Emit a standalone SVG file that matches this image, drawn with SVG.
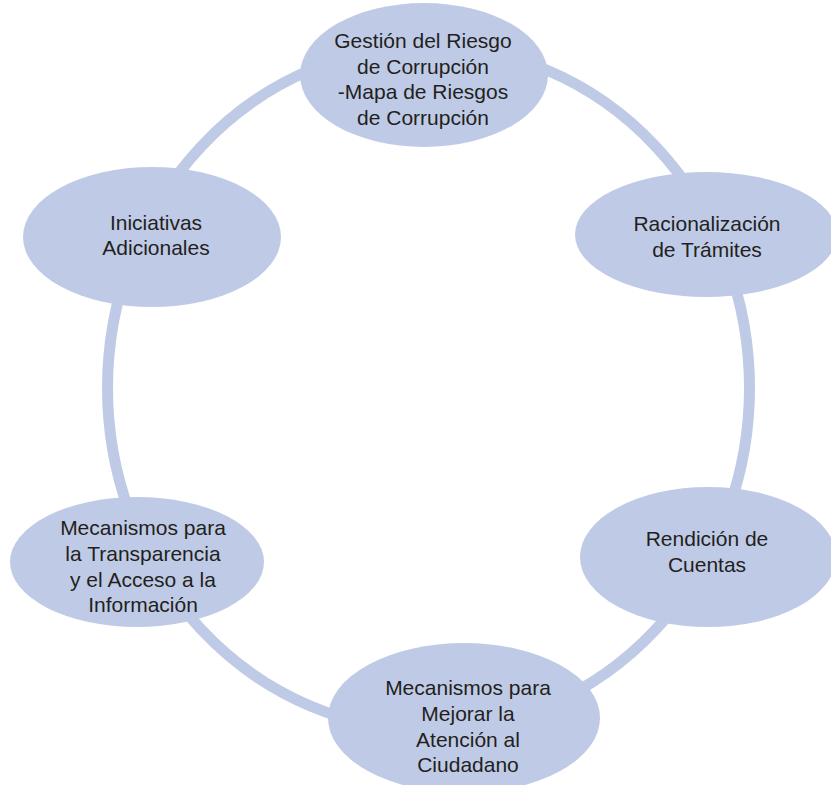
<svg xmlns="http://www.w3.org/2000/svg" width="831" height="785" viewBox="0 0 831 785">
  <style>
    .node { fill: #bfcbe6; }
    .ring { fill: none; stroke: #bfcbe6; stroke-width: 11; }
    .label { font-family: "Liberation Sans", Arial, sans-serif; font-size: 21px; fill: #231f20; text-anchor: middle; }
  </style>
  <rect width="831" height="785" fill="#ffffff"/>
  <g id="connectors">
    <ellipse class="ring" cx="428.5" cy="388" rx="321" ry="342"/>
  </g>
  <g id="node-gestion">
    <ellipse class="node" cx="424" cy="75" rx="124" ry="72"/>
    <text class="label" x="423" y="48">Gestión del Riesgo</text>
    <text class="label" x="423" y="74">de Corrupción</text>
    <text class="label" x="423" y="99">-Mapa de Riesgos</text>
    <text class="label" x="423" y="125">de Corrupción</text>
  </g>
  <g id="node-racionalizacion">
    <ellipse class="node" cx="706" cy="234.5" rx="131" ry="62.5"/>
    <text class="label" x="707" y="231">Racionalización</text>
    <text class="label" x="707" y="257">de Trámites</text>
  </g>
  <g id="node-rendicion">
    <ellipse class="node" cx="708" cy="557" rx="128" ry="70"/>
    <text class="label" x="707" y="546">Rendición de</text>
    <text class="label" x="707" y="572">Cuentas</text>
  </g>
  <g id="node-atencion">
    <ellipse class="node" cx="464" cy="718" rx="136" ry="75"/>
    <text class="label" x="468" y="695">Mecanismos para</text>
    <text class="label" x="468" y="721">Mejorar la</text>
    <text class="label" x="468" y="747">Atención al</text>
    <text class="label" x="468" y="772">Ciudadano</text>
  </g>
  <g id="node-transparencia">
    <ellipse class="node" cx="137" cy="562" rx="127" ry="65"/>
    <text class="label" x="143" y="535">Mecanismos para</text>
    <text class="label" x="143" y="561">la Transparencia</text>
    <text class="label" x="143" y="587">y el Acceso a la</text>
    <text class="label" x="143" y="612">Información</text>
  </g>
  <g id="node-iniciativas">
    <ellipse class="node" cx="152" cy="237" rx="129" ry="70"/>
    <text class="label" x="156" y="230">Iniciativas</text>
    <text class="label" x="156" y="255">Adicionales</text>
  </g>
</svg>
